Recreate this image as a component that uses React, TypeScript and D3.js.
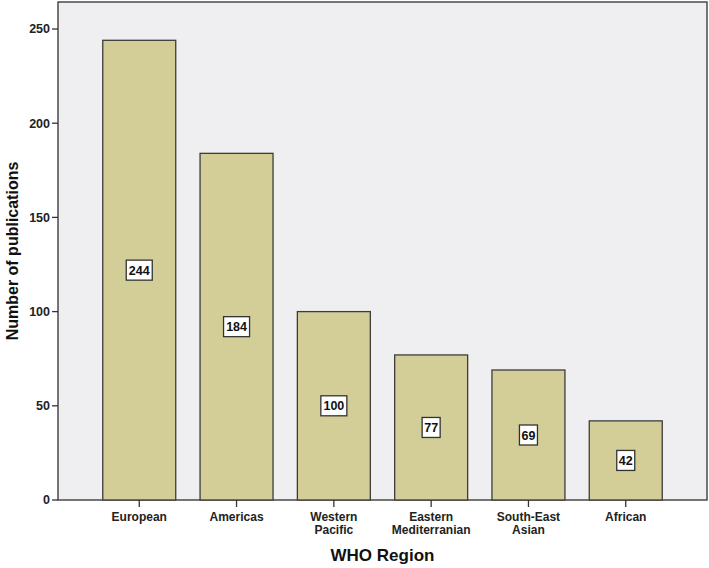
import React, { useEffect, useRef } from 'react';
import * as d3 from 'd3';

const regions: string[][] = [
    ['European'],
    ['Americas'],
    ['Western', 'Pacific'],
    ['Eastern', 'Mediterranian'],
    ['South-East', 'Asian'],
    ['African'],
];
const publications: number[] = [244, 184, 100, 77, 69, 42];
const yTicks: number[] = [0, 50, 100, 150, 200, 250];

const W = 709;
const H = 568;

const App: React.FC = () => {
    const ref = useRef<SVGSVGElement | null>(null);

    useEffect(() => {
        const node = ref.current;
        if (!node) return;
        const svg = d3.select(node);
        svg.selectAll('*').remove();

        const left = 58, right = 707, top = 2, bottom = 500;
        const font = 'Liberation Sans, Arial, sans-serif';
        const keys = regions.map((r) => r.join(' '));

        const x = d3.scaleBand<string>().domain(keys).range([left, right])
            .paddingInner(0.25).paddingOuter(0.46);
        const y = d3.scaleLinear().domain([0, 250]).range([bottom, bottom - 471]);

        svg.append('rect')
            .attr('x', left).attr('y', top)
            .attr('width', right - left).attr('height', bottom - top)
            .attr('fill', '#efeff1').attr('stroke', '#4a4a4a').attr('stroke-width', 1.5);

        const g = svg.append('g');
        g.selectAll('rect.bar')
            .data(publications)
            .enter()
            .append('rect')
            .attr('class', 'bar')
            .attr('x', (_, i) => x(keys[i])!)
            .attr('y', (d) => y(d))
            .attr('width', x.bandwidth())
            .attr('height', (d) => bottom - y(d))
            .attr('fill', '#d3ce97')
            .attr('stroke', '#3c3c3c')
            .attr('stroke-width', 1.3);

        // value labels
        const lab = g.selectAll('g.lab')
            .data(publications)
            .enter()
            .append('g')
            .attr('transform', (d, i) => `translate(${x(keys[i])! + x.bandwidth() / 2}, ${(y(d) + bottom) / 2})`);
        lab.append('rect')
            .attr('x', (d) => (d >= 100 ? -13 : -9))
            .attr('y', -10)
            .attr('width', (d) => (d >= 100 ? 26 : 18))
            .attr('height', 20)
            .attr('fill', '#ffffff')
            .attr('stroke', '#333')
            .attr('stroke-width', 1.3);
        lab.append('text')
            .attr('text-anchor', 'middle')
            .attr('dy', '0.36em')
            .attr('font-family', font)
            .attr('font-weight', 'bold')
            .attr('font-size', 12.5)
            .attr('fill', '#111')
            .text((d) => d);

        // y axis ticks
        const yt = svg.append('g');
        yt.selectAll('line')
            .data(yTicks)
            .enter()
            .append('line')
            .attr('x1', left - 6).attr('x2', left)
            .attr('y1', (d) => y(d)).attr('y2', (d) => y(d))
            .attr('stroke', '#333').attr('stroke-width', 1.3);
        yt.selectAll('text')
            .data(yTicks)
            .enter()
            .append('text')
            .attr('x', left - 8)
            .attr('y', (d) => y(d))
            .attr('dy', '0.35em')
            .attr('text-anchor', 'end')
            .attr('font-family', font)
            .attr('font-weight', 'bold')
            .attr('font-size', 12.5)
            .attr('fill', '#222')
            .text((d) => d);

        // x axis ticks and labels
        const xt = svg.append('g');
        xt.selectAll('line')
            .data(keys)
            .enter()
            .append('line')
            .attr('x1', (d) => x(d)! + x.bandwidth() / 2)
            .attr('x2', (d) => x(d)! + x.bandwidth() / 2)
            .attr('y1', bottom).attr('y2', bottom + 7)
            .attr('stroke', '#333').attr('stroke-width', 1.3);
        const xl = xt.selectAll('text')
            .data(regions)
            .enter()
            .append('text')
            .attr('text-anchor', 'middle')
            .attr('font-family', font)
            .attr('font-weight', 'bold')
            .attr('font-size', 12)
            .attr('fill', '#222');
        xl.each(function (lines, i) {
            const t = d3.select(this);
            const cx = x(keys[i])! + x.bandwidth() / 2;
            lines.forEach((ln, j) => {
                t.append('tspan').attr('x', cx).attr('y', 521 + j * 12.5).text(ln);
            });
        });

        svg.append('text')
            .attr('x', (left + right) / 2)
            .attr('y', 561)
            .attr('text-anchor', 'middle')
            .attr('font-family', font)
            .attr('font-weight', 'bold')
            .attr('font-size', 17)
            .attr('fill', '#111')
            .text('WHO Region');

        svg.append('text')
            .attr('transform', `translate(18, ${(top + bottom) / 2}) rotate(-90)`)
            .attr('text-anchor', 'middle')
            .attr('font-family', font)
            .attr('font-weight', 'bold')
            .attr('font-size', 16)
            .attr('fill', '#111')
            .text('Number of publications');
    }, []);

    return (
        <svg ref={ref} width={W} height={H}
            style={{ position: 'absolute', left: 0, top: 0, background: '#fff' }} />
    );
};

export default App;
